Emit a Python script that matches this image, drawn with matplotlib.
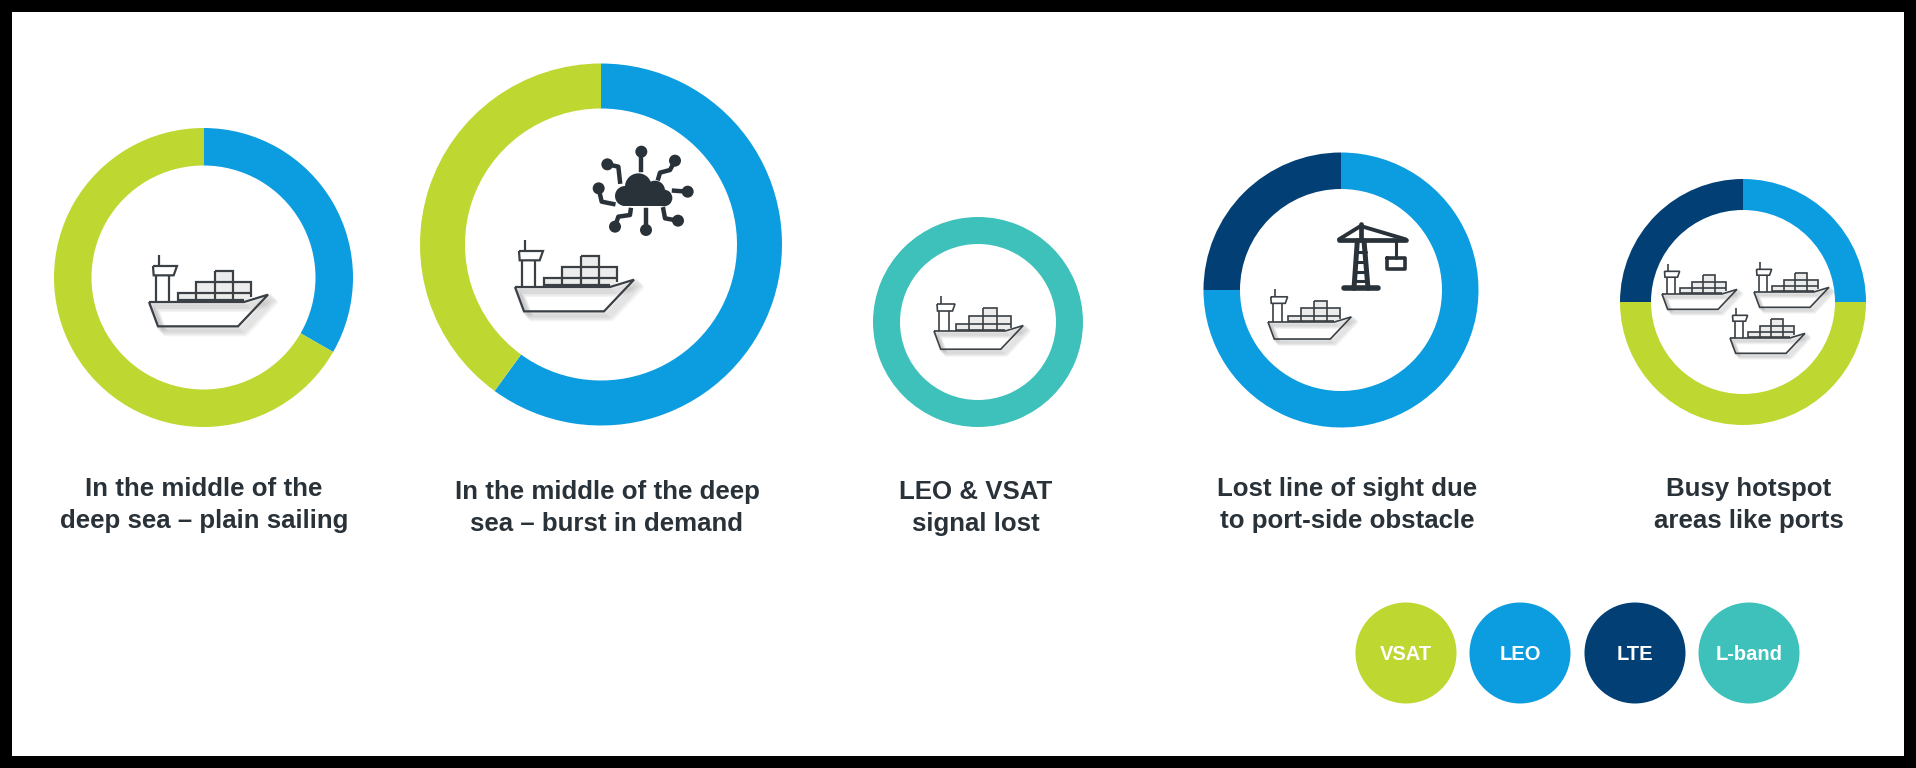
import matplotlib.pyplot as plt
from matplotlib.patches import Circle, Rectangle, Polygon

W, H = 1916, 768

# -- data
technologies = ['VSAT', 'LEO', 'LTE', 'L-band']
tech_colors = {'VSAT': '#bfd731', 'LEO': '#0c9ce0', 'LTE': '#013f75', 'L-band': '#3fc1bb'}

plain_sailing = {'LEO': 33.3, 'VSAT': 66.7}
burst_demand = {'LEO': 60, 'VSAT': 40}
signal_lost = {'L-band': 100}
port_obstacle = {'LEO': 75, 'LTE': 25}
busy_hotspot = {'LEO': 25, 'VSAT': 50, 'LTE': 25}

captions = [
    'In the middle of the\ndeep sea – plain sailing',
    'In the middle of the deep\nsea – burst in demand',
    'LEO & VSAT\nsignal lost',
    'Lost line of sight due\nto port-side obstacle',
    'Busy hotspot\nareas like ports',
]

INK = '#2a3239'

fig = plt.figure(figsize=(W / 100, H / 100), dpi=100, facecolor='black')
ax = fig.add_axes([0, 0, 1, 1])
ax.add_patch(Rectangle((12, 12), W - 24, H - 24, fc='white', ec='none', zorder=0))


def donut(shares, cx, cy, outer, inner):
    ax.pie(list(shares.values()), colors=[tech_colors[k] for k in shares],
           center=(cx, H - cy), radius=outer, startangle=90, counterclock=False,
           wedgeprops={'width': outer - inner, 'linewidth': 0}, frame=True)


def ship_lines(s):
    # ship outline, units are 1/3 px, origin at the left end of the deck
    hull = [(0, 0), (285, 0), (357, -22), (267, 73), (27, 73), (0, 0)]
    bridge = [(12, -108), (84, -108), (74, -80), (14, -80), (12, -108)]
    mast = [(30, -142), (30, -108)]
    post1 = [(22, -80), (22, 0)]
    post2 = [(60, -80), (60, 0)]
    boxes = [
        [(87, 0), (87, -27), (252, -27)],
        [(142, 0), (142, -59), (307, -59), (307, -14)],
        [(197, -92), (252, -92), (252, 0)],
        [(197, 0), (197, -92)],
        [(252, -27), (307, -27)],
        [(87, -5), (285, -5)],
    ]
    return [hull, bridge, mast, post1, post2] + boxes, s / 3


def draw_ship(left, deck_y, s):
    lines, k = ship_lines(s)
    for i in range(1, 6):
        off = i * 1.5 * s
        for ln in lines[:1]:
            xs = [left + p[0] * k + off for p in ln]
            ys = [H - (deck_y + p[1] * k + off) for p in ln]
            ax.plot(xs, ys, color='#555555', alpha=0.07, lw=3.5 * s, zorder=3)
    # light grey fill behind the containers
    ax.add_patch(Polygon([(left + 87 * k, H - deck_y), (left + 87 * k, H - (deck_y - 27 * k)),
                          (left + 142 * k, H - (deck_y - 27 * k)), (left + 142 * k, H - (deck_y - 59 * k)),
                          (left + 197 * k, H - (deck_y - 59 * k)), (left + 197 * k, H - (deck_y - 92 * k)),
                          (left + 252 * k, H - (deck_y - 92 * k)), (left + 252 * k, H - (deck_y - 59 * k)),
                          (left + 307 * k, H - (deck_y - 59 * k)), (left + 307 * k, H - (deck_y - 14 * k)),
                          (left + 285 * k, H - deck_y)], fc='#ececec', ec='none', zorder=3))
    for ln in lines:
        xs = [left + p[0] * k for p in ln]
        ys = [H - (deck_y + p[1] * k) for p in ln]
        ax.plot(xs, ys, color='#3a4045', lw=1.6 * max(s, 0.75), zorder=4,
                solid_joinstyle='miter', solid_capstyle='butt')


def draw_cloud():
    # -- cloud icon, units are 1/3 px from (480, 120)
    def px(x, y):
        return 480 + x / 3, H - (120 + y / 3)
    for x, y, r in [(475, 200, 40), (435, 228, 30), (525, 212, 30), (552, 234, 25)]:
        cx, cy = px(x, y)
        ax.add_patch(Circle((cx, cy), r / 3, fc=INK, ec='none', zorder=4))
    x0, y0 = px(430, 258)
    ax.add_patch(Rectangle((x0, y0), 125 / 3, 40 / 3, fc=INK, ec='none', zorder=4))
    arms = [
        [(484, 95), (484, 150)],
        [(382, 133), (415, 140), (420, 185)],
        [(585, 122), (570, 150), (540, 158), (535, 175)],
        [(623, 215), (582, 212)],
        [(356, 205), (365, 245), (400, 252)],
        [(405, 320), (415, 290), (450, 285), (452, 270)],
        [(498, 330), (498, 270)],
        [(594, 302), (555, 295), (550, 268)],
    ]
    for arm in arms:
        pts = [px(*p) for p in arm]
        ax.plot([p[0] for p in pts], [p[1] for p in pts], color=INK, lw=3.2, zorder=4)
        ax.add_patch(Circle(pts[0], 6, fc=INK, ec='none', zorder=4))


def draw_crane():
    # -- crane icon, units are 1/3 px from (1240, 210)
    def line(pts, lw):
        pp = [(1240 + x / 3, H - (210 + y / 3)) for x, y in pts]
        ax.plot([p[0] for p in pp], [p[1] for p in pp], color=INK, lw=lw, zorder=4,
                solid_capstyle='round')
    line([(297, 90), (497, 90)], 3.4)
    line([(297, 88), (362, 48), (497, 88)], 2.8)
    line([(362, 42), (362, 90)], 3.4)
    line([(352, 92), (342, 235)], 3.6)
    line([(372, 92), (384, 235)], 3.6)
    for y in [125, 155, 185, 212]:
        line([(348, y), (377, y)], 2.2)
    line([(312, 235), (414, 235)], 4)
    line([(468, 92), (468, 145)], 2.2)
    line([(440, 145), (495, 145), (495, 178), (440, 178), (440, 145)], 2.6)


# -- rings
donut(plain_sailing, 203.5, 277.5, 149.5, 112)
donut(burst_demand, 601, 244.5, 181, 136)
donut(signal_lost, 978, 322, 105, 78)
donut(port_obstacle, 1341, 290, 137.5, 101)
donut(busy_hotspot, 1743, 302, 123, 92)

# -- icons
draw_ship(149, 302, 1)
draw_ship(515, 287, 1)
draw_ship(934, 331, 0.75)
draw_ship(1268, 322, 0.70)
draw_ship(1662, 294, 0.63)
draw_ship(1754, 292, 0.63)
draw_ship(1730, 338, 0.63)
draw_cloud()
draw_crane()

# -- captions
for text, x, y in zip(captions, [204, 607, 976, 1347, 1749], [505, 508, 508, 505, 505]):
    ax.text(x, H - y, text, ha='center', va='center', family='Liberation Sans', weight='bold',
            fontsize=18.6, color=INK, linespacing=1.42, zorder=5)

# -- legend
for name, x in zip(technologies, [1406, 1520, 1635, 1749]):
    ax.add_patch(Circle((x, H - 653), 50.5, fc=tech_colors[name], ec='none', zorder=4))
    ax.text(x, H - 654, name, ha='center', va='center', family='Liberation Sans', weight='bold',
            fontsize=14.5, color='white', zorder=5)

ax.set_xlim(0, W)
ax.set_ylim(0, H)
ax.set_aspect('equal')
ax.axis('off')
ax.set_position([0, 0, 1, 1])

fig.savefig('out.png', dpi=100, facecolor='black')
